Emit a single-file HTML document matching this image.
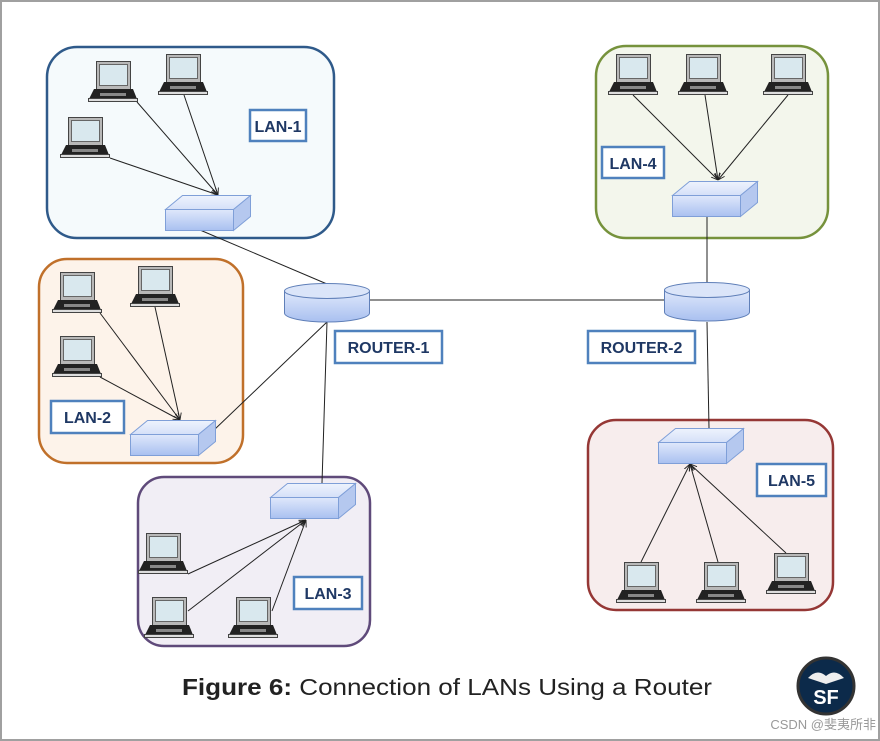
<!DOCTYPE html>
<html><head><meta charset="utf-8"><style>
html,body{margin:0;padding:0;background:#fff}
svg{display:block}
.lbl{font-family:"Liberation Sans",sans-serif;font-weight:bold;font-size:16px;fill:#1f3864}
</style></head><body>
<svg width="880" height="741" viewBox="0 0 880 741" xmlns="http://www.w3.org/2000/svg">
<defs>
<linearGradient id="gsw" x1="0" y1="0" x2="0" y2="1"><stop offset="0" stop-color="#dfe8fb"/><stop offset="1" stop-color="#a9c0f0"/></linearGradient>
<linearGradient id="gswt" x1="0" y1="0" x2="0" y2="1"><stop offset="0" stop-color="#eef3fd"/><stop offset="1" stop-color="#d5e0f8"/></linearGradient>
<marker id="ar" viewBox="0 0 10 10" refX="10" refY="5" markerWidth="7" markerHeight="7" orient="auto"><path d="M0,1 L10,5 L0,9" fill="none" stroke="#222" stroke-width="1.3"/></marker>
<g id="lap">
<rect x="8.5" y="0.5" width="34" height="28" fill="#b8b8b8" stroke="#444"/>
<rect x="11.5" y="3.5" width="28" height="21" fill="#d9e8ee" stroke="#666"/>
<path d="M6,28 L45,28 L49,38 L1,38 Z" fill="#222"/>
<rect x="0.5" y="37.5" width="49" height="3" fill="#ddd" stroke="#444" stroke-width="1"/>
<rect x="12" y="32" width="26" height="3" fill="#888"/>
</g>
<g id="swi">
<path d="M0.5,14.5 L17.5,0.5 L85.5,0.5 L68.5,14.5 Z" fill="url(#gswt)" stroke="#7f9fd8"/>
<path d="M68.5,14.5 L85.5,0.5 L85.5,21.5 L68.5,35.5 Z" fill="#b5c8ef" stroke="#7f9fd8"/>
<rect x="0.5" y="14.5" width="68" height="21" fill="url(#gsw)" stroke="#7f9fd8"/>
</g>
<g id="rt">
<path d="M0.5,8 L0.5,30 A42.5,9 0 0 0 85.5,30 L85.5,8" fill="url(#gsw)" stroke="#5f7fb8"/>
<ellipse cx="43" cy="8" rx="42.5" ry="7.5" fill="#dbe5f9" stroke="#5f7fb8"/>
</g>
</defs>
<rect x="1" y="1" width="878" height="739" fill="#fff" stroke="#a0a0a0" stroke-width="2"/>

<rect x="47" y="47" width="287" height="191" rx="30" fill="#f5fafc" stroke="#2f5a8a" stroke-width="2.5"/>
<rect x="596" y="46" width="232" height="192" rx="30" fill="#f3f6ec" stroke="#76923c" stroke-width="2.5"/>
<rect x="39" y="259" width="204" height="204" rx="28" fill="#fdf3ea" stroke="#c0702a" stroke-width="2.5"/>
<rect x="138" y="477" width="232" height="169" rx="26" fill="#f1eef5" stroke="#5f4a7a" stroke-width="2.5"/>
<rect x="588" y="420" width="245" height="190" rx="28" fill="#f7eded" stroke="#953735" stroke-width="2.5"/>

<g stroke="#222" stroke-width="1">
<line x1="200" y1="230" x2="327" y2="284"/>
<line x1="370" y1="300" x2="665" y2="300"/>
<line x1="327" y1="322" x2="214" y2="430"/>
<line x1="327" y1="322" x2="322" y2="483"/>
<line x1="707" y1="282" x2="707" y2="217"/>
<line x1="707" y1="322" x2="709" y2="428"/>
</g>
<g stroke="#222" stroke-width="1" marker-end="url(#ar)">
<line x1="137" y1="102" x2="218" y2="195"/>
<line x1="184" y1="95" x2="218" y2="195"/>
<line x1="110" y1="158" x2="218" y2="195"/>
<line x1="633" y1="95" x2="718" y2="180"/>
<line x1="705" y1="95" x2="718" y2="180"/>
<line x1="788" y1="95" x2="718" y2="180"/>
<line x1="100" y1="313" x2="180" y2="420"/>
<line x1="155" y1="307" x2="180" y2="420"/>
<line x1="100" y1="377" x2="180" y2="420"/>
<line x1="188" y1="574" x2="306" y2="520"/>
<line x1="188" y1="611" x2="306" y2="520"/>
<line x1="272" y1="611" x2="306" y2="520"/>
<line x1="641" y1="562" x2="690" y2="464"/>
<line x1="718" y1="562" x2="690" y2="464"/>
<line x1="786" y1="553" x2="690" y2="464"/>
</g>

<use href="#swi" x="165" y="195"/>
<use href="#swi" x="672" y="181"/>
<use href="#swi" x="130" y="420"/>
<use href="#swi" x="270" y="483"/>
<use href="#swi" x="658" y="428"/>
<use href="#rt" x="284" y="283"/>
<use href="#rt" x="664" y="282"/>

<use href="#lap" x="88" y="61"/>
<use href="#lap" x="158" y="54"/>
<use href="#lap" x="60" y="117"/>
<use href="#lap" x="608" y="54"/>
<use href="#lap" x="678" y="54"/>
<use href="#lap" x="763" y="54"/>
<use href="#lap" x="52" y="272"/>
<use href="#lap" x="130" y="266"/>
<use href="#lap" x="52" y="336"/>
<use href="#lap" x="138" y="533"/>
<use href="#lap" x="144" y="597"/>
<use href="#lap" x="228" y="597"/>
<use href="#lap" x="616" y="562"/>
<use href="#lap" x="696" y="562"/>
<use href="#lap" x="766" y="553"/>

<g fill="#fff" stroke="#4f81bd" stroke-width="2.5">
<rect x="250" y="110" width="56" height="31"/>
<rect x="602" y="147" width="62" height="31"/>
<rect x="51" y="401" width="73" height="32"/>
<rect x="294" y="577" width="68" height="32"/>
<rect x="757" y="464" width="69" height="32"/>
<rect x="335" y="331" width="107" height="32"/>
<rect x="588" y="331" width="107" height="32"/>
</g>
<g class="lbl" text-anchor="middle">
<text x="278" y="132">LAN-1</text>
<text x="633" y="169">LAN-4</text>
<text x="87.5" y="423">LAN-2</text>
<text x="328" y="599">LAN-3</text>
<text x="791.5" y="486">LAN-5</text>
<text x="388.5" y="353">ROUTER-1</text>
<text x="641.5" y="353">ROUTER-2</text>
</g>

<text x="447" y="695" text-anchor="middle" font-family="Liberation Sans, sans-serif" font-size="23" fill="#222" textLength="530" lengthAdjust="spacingAndGlyphs"><tspan font-weight="bold">Figure 6:</tspan>  Connection of LANs Using a Router</text>

<circle cx="826" cy="686" r="28" fill="#0c2a4a" stroke="#333" stroke-width="3"/>
<path d="M808,678 Q817,668 826,676 Q835,668 844,678 L826,684 Z" fill="#eee"/>
<text x="826" y="704" text-anchor="middle" font-family="Liberation Sans, sans-serif" font-weight="bold" font-size="20" fill="#fff">SF</text>
<text x="876" y="729" text-anchor="end" font-family="Liberation Sans, 'Noto Sans CJK SC', sans-serif" font-size="13" fill="#999">CSDN @斐夷所非</text>
</svg>
</body></html>
